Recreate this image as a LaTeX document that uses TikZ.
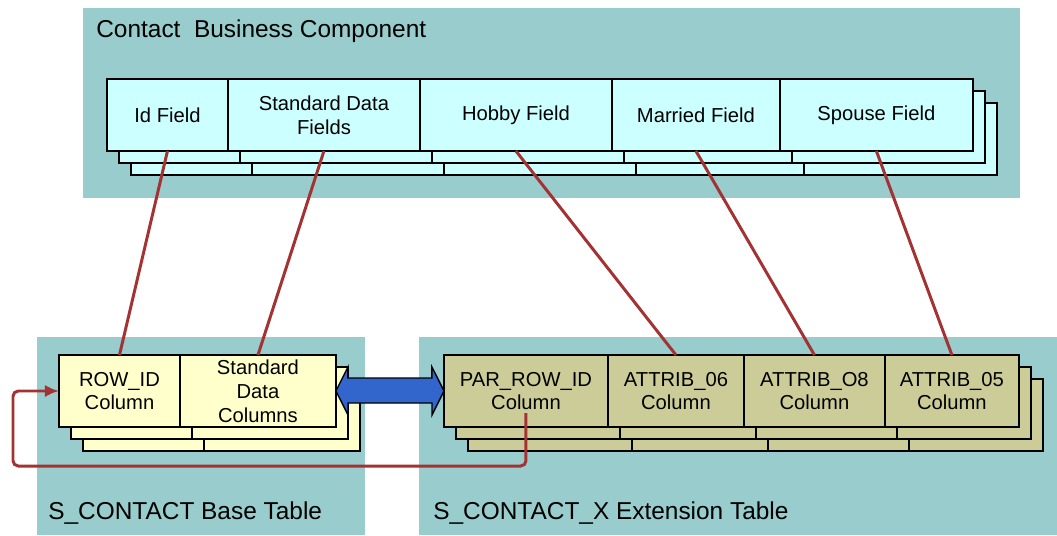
\documentclass[tikz,border=0pt]{standalone}
\usepackage{fontspec}
\setmainfont{Liberation Sans}
\usetikzlibrary{positioning,arrows.meta,calc}
\definecolor{panelteal}{HTML}{99CCCC}
\definecolor{fieldcyan}{HTML}{CCFFFF}
\definecolor{baseyellow}{HTML}{FFFFCC}
\definecolor{extolive}{HTML}{CCCC99}
\definecolor{linkred}{HTML}{A33333}
\definecolor{flowblue}{HTML}{3366CC}
\newcommand{\cellfont}{\fontsize{11.5}{13.6}\selectfont}
\newcommand{\panelfont}{\fontsize{13.9}{16}\selectfont}
\pgfdeclarelayer{panel}
\pgfdeclarelayer{background}
\pgfsetlayers{panel,background,main}
\tikzset{
  cell/.style={draw, line width=0.9pt, minimum height=1.44cm, inner sep=0.5pt, outer sep=0pt, align=center, font=\cellfont},
  fieldcell/.style={cell, fill=fieldcyan},
  basecell/.style={cell, fill=baseyellow},
  extcell/.style={cell, fill=extolive},
  paneltitle/.style={anchor=west, inner sep=0pt, font=\panelfont},
  link/.style={draw=linkred, line width=1.7pt},
  dataflow/.style={fill=flowblue, draw=black, line width=0.8pt, line join=miter}
}

\begin{document}
\begin{tikzpicture}[x=0.02cm, y=-0.02cm]
  \useasboundingbox (0,0) rectangle (1057,535);

  \begin{pgfonlayer}{panel}
    \fill[panelteal] (83,8) rectangle (1020,198);
    \fill[panelteal] (37,337) rectangle (365,535);
    \fill[panelteal] (419,337) rectangle (1057,535);
  \end{pgfonlayer}

  \node[paneltitle] (bctitle) at (96,31) {Contact~ Business Component};
  \node[paneltitle] (basetitle) at (48,513) {S\_CONTACT Base Table};
  \node[paneltitle] (exttitle) at (433,513) {S\_CONTACT\_X Extension Table};

  \node[fieldcell, minimum width=2.42cm, anchor=north west] (idf) at (107,79) {Id Field};
  \node[fieldcell, minimum width=3.84cm, right=0pt of idf] (sdf) {Standard Data\\Fields};
  \node[fieldcell, minimum width=3.84cm, right=0pt of sdf] (hob) {Hobby Field};
  \node[fieldcell, minimum width=3.36cm, right=0pt of hob] (mar) {Married Field};
  \node[fieldcell, minimum width=3.86cm, right=0pt of mar] (spo) {Spouse Field};

  \node[basecell, minimum width=2.42cm, anchor=north west] (rowid) at (59,355) {ROW\_ID\\Column};
  \node[basecell, minimum width=3.12cm, right=0pt of rowid] (sdc) {Standard\\Data\\Columns};

  \node[extcell, minimum width=3.28cm, anchor=north west] (parrow) at (444,355) {PAR\_ROW\_ID\\Column};
  \node[extcell, minimum width=2.72cm, right=0pt of parrow] (att06) {ATTRIB\_06\\Column};
  \node[extcell, minimum width=2.82cm, right=0pt of att06] (att08) {ATTRIB\_O8\\Column};
  \node[extcell, minimum width=2.68cm, right=0pt of att08] (att05) {ATTRIB\_05\\Column};

  \begin{pgfonlayer}{background}
    \foreach \d in {24,12}
      \foreach \c/\f in {idf/fieldcyan, sdf/fieldcyan, hob/fieldcyan, mar/fieldcyan, spo/fieldcyan,
                         rowid/baseyellow, sdc/baseyellow,
                         parrow/extolive, att06/extolive, att08/extolive, att05/extolive}
        \filldraw[fill=\f, line width=0.9pt] ([shift={(\d,\d)}]\c.north west) rectangle ([shift={(\d,\d)}]\c.south east);
  \end{pgfonlayer}

  \draw[link] (idf.south) -- (rowid.north);
  \draw[link] (sdf.south) -- (sdc.north);
  \draw[link] (hob.south) -- (att06.north);
  \draw[link] (mar.south) -- (att08.north);
  \draw[link] (spo.south) -- (att05.north);

  \coordinate (loopcorner) at (13,466);
  \draw[link, rounded corners=3pt, -{Latex[length=8pt,width=7pt]}]
    ([yshift=-0.44cm]parrow.center) |- (loopcorner) |- (rowid.west);

  \draw[dataflow] (sdc.east) -- ++(12,-24) -- ++(0,11) -- ++(84,0) -- ++(0,-11) -- (parrow.west)
    -- ++(-12,24) -- ++(0,-12) -- ++(-84,0) -- ++(0,12) -- cycle;
\end{tikzpicture}
\end{document}
